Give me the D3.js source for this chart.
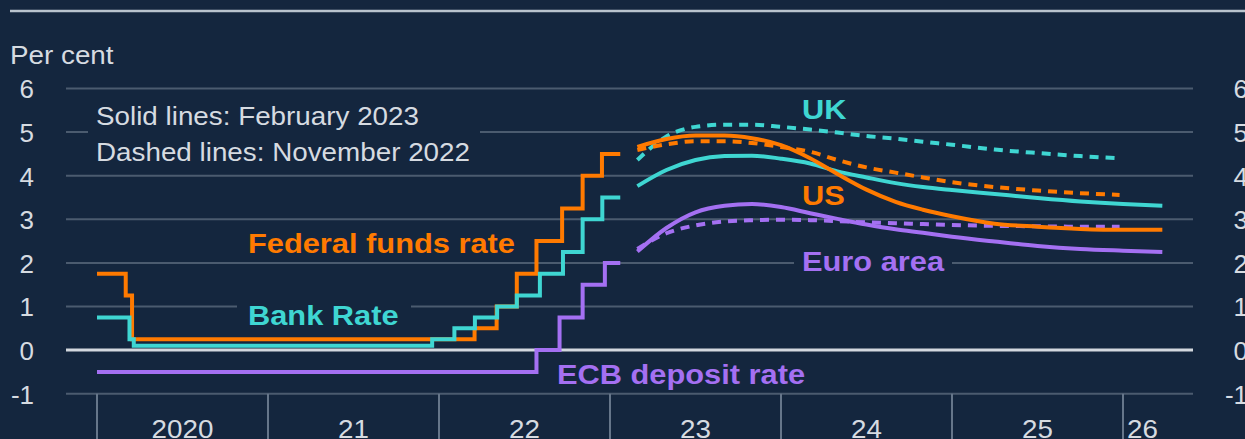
<!DOCTYPE html>
<html>
<head>
<meta charset="utf-8">
<script src="https://cdn.jsdelivr.net/npm/d3@7"></script>
<style>
  html, body { margin: 0; padding: 0; background: #14263e; overflow: hidden; }
  svg { display: block; }
  text { font-family: "Liberation Sans", Arial, sans-serif; }
</style>
</head>
<body>
<svg id="chart" width="1245" height="439"></svg>
<script>
// ---------- data ----------
const yTicks = [-1, 0, 1, 2, 3, 4, 5, 6];
const yearTicks = [2020, 2021, 2022, 2023, 2024, 2025, 2026];
const yearLabels = ["2020", "21", "22", "23", "24", "25", "26"];

// Policy rates (step series), dates as decimal years
const fedDates = [2020.0, 2020.168, 2020.205, 2022.208, 2022.337, 2022.455, 2022.57, 2022.72, 2022.84, 2022.953, 2023.06];
const fedRate  = [1.75, 1.25, 0.25, 0.5, 1.0, 1.75, 2.5, 3.25, 4.0, 4.5, 4.5];

const bankDates = [2020.0, 2020.19, 2020.215, 2021.96, 2022.09, 2022.21, 2022.34, 2022.455, 2022.59, 2022.725, 2022.84, 2022.955, 2023.06];
const bankRate  = [0.75, 0.25, 0.1, 0.25, 0.5, 0.75, 1.0, 1.25, 1.75, 2.25, 3.0, 3.5, 3.5];

const ecbDates = [2020.0, 2022.57, 2022.705, 2022.84, 2022.97, 2023.06];
const ecbRate  = [-0.5, 0.0, 0.75, 1.5, 2.0, 2.0];

// Market-implied paths
const febDates = [2023.16, 2023.33, 2023.5, 2023.67, 2023.83, 2024.0, 2024.17, 2024.33, 2024.5, 2024.67, 2024.83, 2025.0, 2025.25, 2025.5, 2025.75, 2026.0, 2026.23];
const ukFeb    = [3.76, 4.13, 4.36, 4.45, 4.46, 4.39, 4.28, 4.10, 3.96, 3.83, 3.74, 3.67, 3.58, 3.49, 3.41, 3.35, 3.31];
const usFeb    = [4.66, 4.84, 4.92, 4.92, 4.86, 4.70, 4.40, 4.04, 3.68, 3.40, 3.22, 3.07, 2.90, 2.83, 2.78, 2.76, 2.76];
const euFeb    = [2.26, 2.80, 3.16, 3.31, 3.35, 3.28, 3.14, 3.01, 2.88, 2.77, 2.69, 2.60, 2.49, 2.39, 2.32, 2.28, 2.25];

const novDates = [2023.16, 2023.33, 2023.5, 2023.67, 2023.83, 2024.0, 2024.17, 2024.33, 2024.5, 2024.67, 2024.83, 2025.0, 2025.25, 2025.5, 2025.75, 2025.98];
const ukNov    = [4.36, 4.90, 5.12, 5.17, 5.17, 5.12, 5.06, 4.99, 4.91, 4.85, 4.78, 4.71, 4.60, 4.52, 4.45, 4.40];
const usNov    = [4.59, 4.72, 4.79, 4.79, 4.75, 4.66, 4.55, 4.36, 4.19, 4.07, 3.96, 3.85, 3.74, 3.66, 3.60, 3.56];
const euNov    = [2.32, 2.68, 2.86, 2.95, 2.98, 2.99, 2.98, 2.96, 2.93, 2.91, 2.89, 2.87, 2.85, 2.84, 2.83, 2.83];

// ---------- styles ----------
const C = {
  bg: "#14263e", grid: "#4b5b6f", zero: "#d3d8de", text: "#d6dbe1",
  tick: "#66768a", rule: "#b9c3cd",
  orange: "#ff7a00", cyan: "#3fd6d2", purple: "#a470f2"
};

const svg = d3.select("#chart");
svg.append("rect").attr("width", 1245).attr("height", 439).attr("fill", C.bg);

const x = d3.scaleLinear().domain([2020, 2026]).range([97, 1123]);
const y = d3.scaleLinear().domain([-1, 6]).range([393.7, 88.5]);
const gridX0 = 66, gridX1 = 1193;

// top rule
svg.append("line").attr("x1", 10).attr("x2", 1245).attr("y1", 11).attr("y2", 11)
  .attr("stroke", C.rule).attr("stroke-width", 2.5);

// helper for slightly widened text
function txt(sel, str, px, py, opts) {
  const o = Object.assign({size: 26, weight: "normal", fill: C.text, anchor: "start", sx: 1.07}, opts || {});
  return sel.append("text")
    .attr("transform", `translate(${px},${py}) scale(${o.sx},1)`)
    .attr("font-size", o.size).attr("font-weight", o.weight)
    .attr("fill", o.fill).attr("text-anchor", o.anchor).text(str);
}

txt(svg, "Per cent", 10, 64);

// gridlines
const grid = svg.append("g");
yTicks.filter(v => v !== 0).forEach(v => {
  grid.append("line").attr("x1", gridX0).attr("x2", gridX1)
    .attr("y1", y(v)).attr("y2", y(v))
    .attr("stroke", C.grid).attr("stroke-width", 2);
});

// y axes (left & right) via d3 axes, restyled
const fmt = d => String(d);
function styleAxis(g) {
  g.select(".domain").remove();
  g.selectAll("text").attr("fill", C.text).attr("font-size", 26)
    .attr("font-family", "Liberation Sans, Arial, sans-serif").attr("dy", "0.36em");
}
const gL = svg.append("g").attr("transform", "translate(34,0)")
  .call(d3.axisLeft(y).tickValues(yTicks).tickFormat(fmt).tickSize(0).tickPadding(0));
styleAxis(gL);
const gR = svg.append("g").attr("transform", "translate(1248,0)")
  .call(d3.axisLeft(y).tickValues(yTicks).tickFormat(fmt).tickSize(0).tickPadding(0));
styleAxis(gR);

// x axis ticks
const xg = svg.append("g");
yearTicks.forEach(t => {
  xg.append("line").attr("x1", x(t)).attr("x2", x(t)).attr("y1", y(-1)).attr("y2", 439)
    .attr("stroke", C.tick).attr("stroke-width", 2);
});
yearLabels.forEach((lab, i) => {
  const t = yearTicks[i];
  if (i < yearTicks.length - 1) {
    txt(xg, lab, (x(t) + x(yearTicks[i + 1])) / 2, 438, {anchor: "middle"});
  } else {
    txt(xg, lab, x(t) + 4, 438, {anchor: "start"});
  }
});

// label background boxes (hide gridlines behind labels)
svg.append("rect").attr("x", 88).attr("y", 100).attr("width", 392).attr("height", 68).attr("fill", C.bg);
svg.append("rect").attr("x", 237).attr("y", 297).attr("width", 174).attr("height", 32).attr("fill", C.bg);
svg.append("rect").attr("x", 794).attr("y", 246).attr("width", 158).attr("height", 32).attr("fill", C.bg);

// zero line
svg.append("line").attr("x1", gridX0).attr("x2", gridX1).attr("y1", y(0)).attr("y2", y(0))
  .attr("stroke", C.zero).attr("stroke-width", 3);

// lines
const stepLine = d3.line().x(d => x(d[0])).y(d => y(d[1])).curve(d3.curveStepAfter);
const smoothLine = d3.line().x(d => x(d[0])).y(d => y(d[1])).curve(d3.curveMonotoneX);
const zip = (a, b) => a.map((v, i) => [v, b[i]]);

function draw(gen, data, color, dashed) {
  const p = svg.append("path").attr("d", gen(data)).attr("fill", "none")
    .attr("stroke", color).attr("stroke-width", 4).attr("stroke-linejoin", "miter");
  if (dashed) p.attr("stroke-dasharray", "9,7");
  return p;
}

draw(stepLine, zip(fedDates, fedRate), C.orange);
draw(stepLine, zip(bankDates, bankRate), C.cyan);
draw(stepLine, zip(ecbDates, ecbRate), C.purple);

draw(smoothLine, zip(novDates, ukNov), C.cyan, true);
draw(smoothLine, zip(novDates, euNov), C.purple, true);
draw(smoothLine, zip(novDates, usNov), C.orange, true);
draw(smoothLine, zip(febDates, ukFeb), C.cyan);
draw(smoothLine, zip(febDates, euFeb), C.purple);
draw(smoothLine, zip(febDates, usFeb), C.orange);

// legend text
txt(svg, "Solid lines: February 2023", 96, 125);
txt(svg, "Dashed lines: November 2022", 96, 161);

// series labels
const bold = (str, px, py, color) => txt(svg, str, px, py, {size: 28, weight: "bold", fill: color, sx: 1.1});
bold("Federal funds rate", 248, 253, C.orange);
bold("Bank Rate", 248, 325, C.cyan);
bold("ECB deposit rate", 557, 384, C.purple);
bold("UK", 802, 119, C.cyan);
bold("US", 802, 205, C.orange);
bold("Euro area", 802, 271, C.purple);
</script>
</body>
</html>
